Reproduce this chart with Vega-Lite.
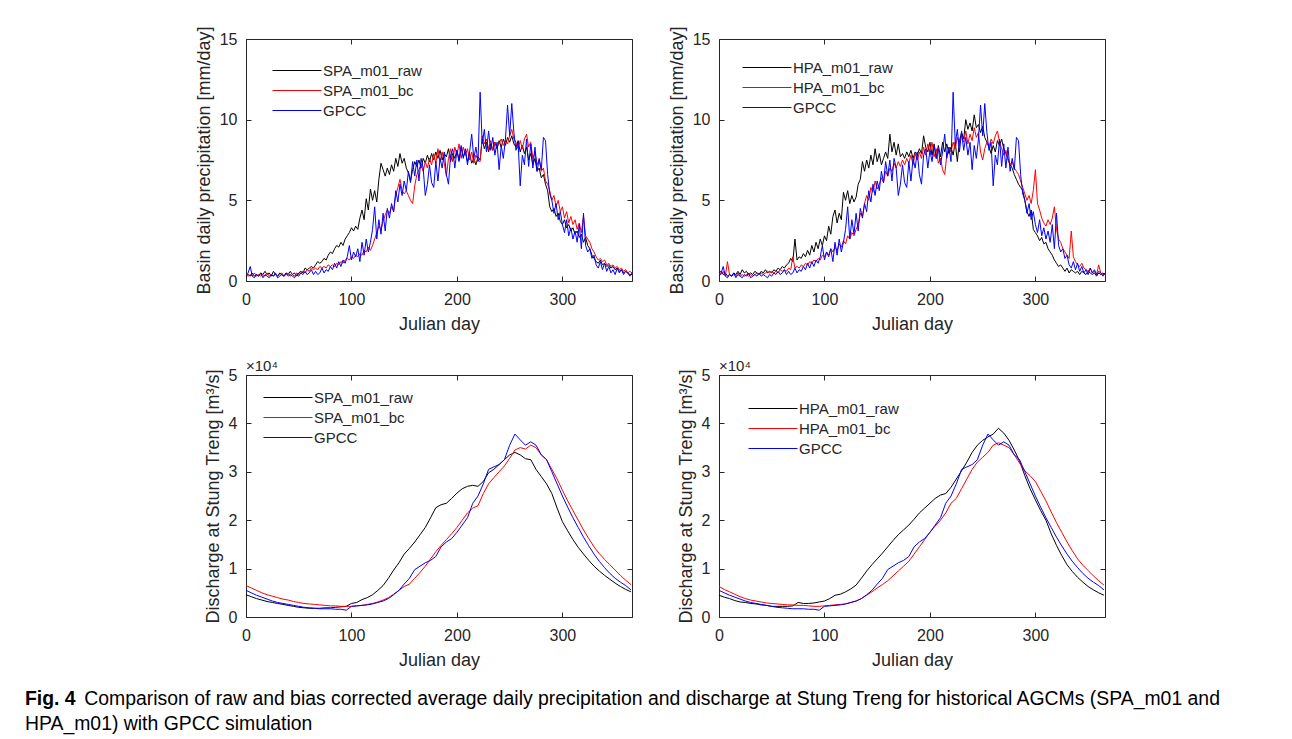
{
  "$schema": "https://vega.github.io/schema/vega-lite/v6.json",
  "padding": {"left": 25, "top": 25, "right": 5, "bottom": 5},
  "background": "#ffffff",
  "columns": 2,
  "spacing": {"row": 94, "column": 87},
  "bounds": "flush",
  "resolve": {"legend": {"color": "independent"}},
  "title": {
    "text": "Fig. 4",
    "subtitle": ["\u200b\u00a0\u00a0\u00a0\u00a0\u00a0\u00a0\u00a0\u00a0\u00a0\u00a0\u00a0Comparison of raw and bias corrected average daily precipitation and discharge at Stung Treng for historical AGCMs (SPA_m01 and", "HPA_m01) with GPCC simulation"],
    "orient": "bottom", "anchor": "start", "frame": "group",
    "dx": -221, "offset": 20,
    "font": "Liberation Sans", "fontSize": 19.4, "fontWeight": "bold", "color": "#000000",
    "subtitleFont": "Liberation Sans", "subtitleFontSize": 19.4, "subtitleColor": "#000000",
    "subtitlePadding": -19.4, "subtitleLineHeight": 25
  },
  "datasets": {
    "pS": [
{"day":0,"raw":0.3,"bc":0.4,"GPCC":0.3},{"day":2,"raw":0.4,"bc":0.3,"GPCC":0.5},{"day":4,"raw":0.3,"bc":0.4,"GPCC":0.9},{"day":6,"raw":0.5,"bc":0.3,"GPCC":0.3},{"day":8,"raw":0.3,"bc":0.5,"GPCC":0.2},{"day":10,"raw":0.4,"bc":0.3,"GPCC":0.4},{"day":12,"raw":0.3,"bc":0.4,"GPCC":0.3},{"day":14,"raw":0.5,"bc":0.3,"GPCC":0.5},{"day":16,"raw":0.4,"bc":0.4,"GPCC":0.2},{"day":18,"raw":0.6,"bc":0.3,"GPCC":0.4},
{"day":20,"raw":0.4,"bc":0.5,"GPCC":0.3},{"day":22,"raw":0.5,"bc":0.3,"GPCC":0.2},{"day":24,"raw":0.3,"bc":0.4,"GPCC":0.4},{"day":26,"raw":0.6,"bc":0.3,"GPCC":0.3},{"day":28,"raw":0.4,"bc":0.4,"GPCC":0.5},{"day":30,"raw":0.3,"bc":0.3,"GPCC":0.2},{"day":32,"raw":0.5,"bc":0.4,"GPCC":0.3},{"day":34,"raw":0.4,"bc":0.5,"GPCC":0.4},{"day":36,"raw":0.3,"bc":0.3,"GPCC":0.3},{"day":38,"raw":0.5,"bc":0.4,"GPCC":0.5},
{"day":40,"raw":0.4,"bc":0.5,"GPCC":0.3},{"day":42,"raw":0.6,"bc":0.3,"GPCC":0.4},{"day":44,"raw":0.4,"bc":0.4,"GPCC":0.3},{"day":46,"raw":0.5,"bc":0.3,"GPCC":0.2},{"day":48,"raw":0.3,"bc":0.5,"GPCC":0.4},{"day":50,"raw":0.5,"bc":0.4,"GPCC":0.3},{"day":52,"raw":0.6,"bc":0.5,"GPCC":0.5},{"day":54,"raw":0.5,"bc":0.6,"GPCC":0.4},{"day":56,"raw":0.8,"bc":0.5,"GPCC":0.6},{"day":58,"raw":0.7,"bc":0.7,"GPCC":0.4},
{"day":60,"raw":0.8,"bc":0.6,"GPCC":0.5},{"day":62,"raw":0.9,"bc":0.8,"GPCC":0.7},{"day":64,"raw":0.8,"bc":0.7,"GPCC":0.4},{"day":66,"raw":1.0,"bc":0.8,"GPCC":0.6},{"day":68,"raw":1.2,"bc":0.7,"GPCC":0.4},{"day":70,"raw":1.1,"bc":0.9,"GPCC":0.5},{"day":72,"raw":1.2,"bc":0.8,"GPCC":0.8},{"day":74,"raw":1.4,"bc":0.9,"GPCC":0.5},{"day":76,"raw":1.3,"bc":0.8,"GPCC":0.7},{"day":78,"raw":1.6,"bc":1.0,"GPCC":0.6},
{"day":80,"raw":1.8,"bc":0.9,"GPCC":0.9},{"day":82,"raw":1.7,"bc":1.0,"GPCC":0.7},{"day":84,"raw":2.0,"bc":0.9,"GPCC":1.1},{"day":86,"raw":2.2,"bc":1.1,"GPCC":0.8},{"day":88,"raw":2.1,"bc":1.0,"GPCC":1.2},{"day":90,"raw":2.4,"bc":1.2,"GPCC":0.9},{"day":92,"raw":2.2,"bc":1.1,"GPCC":1.3},{"day":94,"raw":2.6,"bc":1.3,"GPCC":1.1},{"day":96,"raw":2.8,"bc":1.4,"GPCC":1.5},{"day":98,"raw":3.0,"bc":1.3,"GPCC":2.2},
{"day":100,"raw":3.3,"bc":1.5,"GPCC":1.3},{"day":102,"raw":3.1,"bc":1.4,"GPCC":1.8},{"day":104,"raw":3.4,"bc":1.6,"GPCC":1.5},{"day":106,"raw":3.2,"bc":1.5,"GPCC":2.0},{"day":108,"raw":3.9,"bc":1.7,"GPCC":1.2},{"day":110,"raw":4.4,"bc":1.6,"GPCC":2.4},{"day":112,"raw":3.8,"bc":1.9,"GPCC":1.6},{"day":114,"raw":5.1,"bc":1.8,"GPCC":2.6},{"day":116,"raw":4.4,"bc":2.1,"GPCC":1.8},{"day":118,"raw":5.7,"bc":1.9,"GPCC":2.4},
{"day":120,"raw":5.0,"bc":2.2,"GPCC":3.2},{"day":122,"raw":5.6,"bc":2.6,"GPCC":4.6},{"day":124,"raw":4.9,"bc":3.0,"GPCC":2.6},{"day":126,"raw":6.3,"bc":3.4,"GPCC":3.8},{"day":128,"raw":7.3,"bc":3.2,"GPCC":2.9},{"day":130,"raw":6.9,"bc":3.7,"GPCC":4.2},{"day":132,"raw":6.5,"bc":4.1,"GPCC":3.1},{"day":134,"raw":7.0,"bc":4.4,"GPCC":4.5},{"day":136,"raw":6.6,"bc":4.2,"GPCC":3.9},{"day":138,"raw":7.2,"bc":4.6,"GPCC":4.8},
{"day":140,"raw":6.8,"bc":4.3,"GPCC":4.3},{"day":142,"raw":7.6,"bc":5.3,"GPCC":5.6},{"day":144,"raw":7.1,"bc":5.8,"GPCC":4.9},{"day":146,"raw":7.9,"bc":6.3,"GPCC":6.0},{"day":148,"raw":7.3,"bc":5.6,"GPCC":5.3},{"day":150,"raw":7.6,"bc":5.4,"GPCC":6.2},{"day":152,"raw":7.0,"bc":5.6,"GPCC":5.6},{"day":154,"raw":6.7,"bc":5.3,"GPCC":6.8},{"day":156,"raw":6.2,"bc":5.0,"GPCC":6.1},{"day":158,"raw":6.9,"bc":4.8,"GPCC":7.4},
{"day":160,"raw":7.4,"bc":5.9,"GPCC":6.5},{"day":162,"raw":7.1,"bc":6.6,"GPCC":7.5},{"day":164,"raw":7.5,"bc":6.9,"GPCC":6.2},{"day":166,"raw":7.0,"bc":7.2,"GPCC":7.6},{"day":168,"raw":7.6,"bc":6.8,"GPCC":7.0},{"day":170,"raw":7.3,"bc":7.4,"GPCC":5.3},{"day":172,"raw":7.8,"bc":7.0,"GPCC":6.0},{"day":174,"raw":7.4,"bc":7.6,"GPCC":7.2},{"day":176,"raw":7.9,"bc":7.2,"GPCC":6.1},{"day":178,"raw":7.5,"bc":7.9,"GPCC":5.8},
{"day":180,"raw":8.0,"bc":7.3,"GPCC":7.4},{"day":182,"raw":7.6,"bc":8.2,"GPCC":6.2},{"day":184,"raw":8.1,"bc":7.4,"GPCC":7.6},{"day":186,"raw":7.5,"bc":8.0,"GPCC":7.0},{"day":188,"raw":7.9,"bc":7.3,"GPCC":8.0},{"day":190,"raw":7.7,"bc":6.5,"GPCC":6.6},{"day":192,"raw":8.2,"bc":7.6,"GPCC":6.0},{"day":194,"raw":7.4,"bc":8.2,"GPCC":7.8},{"day":196,"raw":7.9,"bc":7.4,"GPCC":8.2},{"day":198,"raw":7.6,"bc":8.3,"GPCC":7.0},
{"day":200,"raw":8.1,"bc":7.8,"GPCC":8.1},{"day":202,"raw":7.5,"bc":8.5,"GPCC":7.4},{"day":204,"raw":8.3,"bc":7.6,"GPCC":8.4},{"day":206,"raw":7.7,"bc":8.3,"GPCC":7.6},{"day":208,"raw":8.0,"bc":7.8,"GPCC":8.2},{"day":210,"raw":7.4,"bc":8.2,"GPCC":7.2},{"day":212,"raw":7.9,"bc":7.5,"GPCC":8.0},{"day":214,"raw":7.3,"bc":8.0,"GPCC":9.1},{"day":216,"raw":7.6,"bc":7.3,"GPCC":7.6},{"day":218,"raw":7.2,"bc":7.8,"GPCC":8.3},
{"day":220,"raw":7.7,"bc":7.5,"GPCC":7.4},{"day":222,"raw":7.5,"bc":7.4,"GPCC":11.7},{"day":224,"raw":8.8,"bc":9.0,"GPCC":8.5},{"day":226,"raw":8.2,"bc":8.5,"GPCC":9.4},{"day":228,"raw":8.6,"bc":8.8,"GPCC":8.0},{"day":230,"raw":8.0,"bc":8.2,"GPCC":9.3},{"day":232,"raw":8.5,"bc":8.7,"GPCC":8.1},{"day":234,"raw":8.1,"bc":8.1,"GPCC":8.9},{"day":236,"raw":8.6,"bc":8.6,"GPCC":7.8},{"day":238,"raw":8.2,"bc":8.3,"GPCC":8.6},
{"day":240,"raw":8.7,"bc":8.5,"GPCC":6.9},{"day":242,"raw":8.3,"bc":8.8,"GPCC":8.4},{"day":244,"raw":8.8,"bc":8.4,"GPCC":7.6},{"day":246,"raw":8.4,"bc":8.7,"GPCC":8.8},{"day":248,"raw":8.9,"bc":8.5,"GPCC":10.9},{"day":250,"raw":8.6,"bc":9.0,"GPCC":9.0},{"day":252,"raw":9.0,"bc":9.4,"GPCC":11.0},{"day":254,"raw":8.5,"bc":8.8,"GPCC":9.2},{"day":256,"raw":8.3,"bc":8.6,"GPCC":8.1},{"day":258,"raw":8.7,"bc":8.2,"GPCC":8.6},
{"day":260,"raw":8.0,"bc":8.7,"GPCC":5.9},{"day":262,"raw":8.4,"bc":8.2,"GPCC":7.8},{"day":264,"raw":7.9,"bc":8.8,"GPCC":7.2},{"day":266,"raw":8.3,"bc":9.1,"GPCC":8.8},{"day":268,"raw":7.5,"bc":8.3,"GPCC":7.1},{"day":270,"raw":7.9,"bc":8.6,"GPCC":8.5},{"day":272,"raw":7.2,"bc":7.6,"GPCC":7.0},{"day":274,"raw":7.6,"bc":8.0,"GPCC":8.3},{"day":276,"raw":6.8,"bc":7.2,"GPCC":6.8},{"day":278,"raw":7.0,"bc":7.5,"GPCC":7.6},
{"day":280,"raw":6.4,"bc":6.8,"GPCC":6.9},{"day":282,"raw":6.6,"bc":7.0,"GPCC":8.9},{"day":284,"raw":6.0,"bc":6.2,"GPCC":8.7},{"day":286,"raw":5.6,"bc":6.0,"GPCC":6.6},{"day":288,"raw":4.6,"bc":5.6,"GPCC":5.4},{"day":290,"raw":4.3,"bc":5.0,"GPCC":5.0},{"day":292,"raw":4.5,"bc":5.3,"GPCC":4.2},{"day":294,"raw":4.0,"bc":4.6,"GPCC":4.8},{"day":296,"raw":4.2,"bc":5.0,"GPCC":3.8},{"day":298,"raw":3.7,"bc":4.3,"GPCC":4.3},
{"day":300,"raw":3.5,"bc":4.6,"GPCC":3.5},{"day":302,"raw":3.8,"bc":3.9,"GPCC":3.0},{"day":304,"raw":3.3,"bc":4.3,"GPCC":3.8},{"day":306,"raw":3.5,"bc":3.6,"GPCC":2.8},{"day":308,"raw":3.1,"bc":4.0,"GPCC":3.3},{"day":310,"raw":3.3,"bc":3.5,"GPCC":2.6},{"day":312,"raw":2.9,"bc":3.8,"GPCC":3.1},{"day":314,"raw":3.1,"bc":3.2,"GPCC":2.4},{"day":316,"raw":2.7,"bc":3.6,"GPCC":3.5},{"day":318,"raw":2.9,"bc":3.0,"GPCC":2.0},
{"day":320,"raw":2.4,"bc":4.0,"GPCC":4.2},{"day":322,"raw":2.7,"bc":2.8,"GPCC":2.2},{"day":324,"raw":2.2,"bc":2.6,"GPCC":1.8},{"day":326,"raw":2.0,"bc":2.4,"GPCC":2.0},{"day":328,"raw":1.6,"bc":2.0,"GPCC":1.4},{"day":330,"raw":1.4,"bc":1.8,"GPCC":1.6},{"day":332,"raw":1.2,"bc":1.5,"GPCC":1.0},{"day":334,"raw":1.1,"bc":1.3,"GPCC":0.8},{"day":336,"raw":1.3,"bc":1.4,"GPCC":1.2},{"day":338,"raw":1.0,"bc":1.2,"GPCC":0.7},
{"day":340,"raw":1.1,"bc":1.3,"GPCC":1.1},{"day":342,"raw":0.9,"bc":1.0,"GPCC":0.6},{"day":344,"raw":1.0,"bc":1.1,"GPCC":0.9},{"day":346,"raw":0.8,"bc":0.9,"GPCC":0.5},{"day":348,"raw":0.9,"bc":1.0,"GPCC":0.7},{"day":350,"raw":0.7,"bc":0.8,"GPCC":0.4},{"day":352,"raw":0.8,"bc":0.9,"GPCC":0.8},{"day":354,"raw":0.6,"bc":0.7,"GPCC":0.5},{"day":356,"raw":0.7,"bc":0.8,"GPCC":0.7},{"day":358,"raw":0.5,"bc":0.6,"GPCC":0.4},
{"day":360,"raw":0.6,"bc":0.7,"GPCC":0.6},{"day":362,"raw":0.5,"bc":0.5,"GPCC":0.5},{"day":364,"raw":0.4,"bc":0.6,"GPCC":0.3},{"day":366,"raw":0.4,"bc":0.5,"GPCC":0.5}
    ],
    "pH": [
{"day":0,"raw":0.5,"bc":0.5,"GPCC":0.3},{"day":2,"raw":0.6,"bc":0.4,"GPCC":0.5},{"day":4,"raw":0.4,"bc":0.6,"GPCC":0.9},{"day":6,"raw":0.5,"bc":0.3,"GPCC":0.3},{"day":8,"raw":0.3,"bc":1.2,"GPCC":0.2},{"day":10,"raw":0.4,"bc":0.4,"GPCC":0.4},{"day":12,"raw":0.3,"bc":0.3,"GPCC":0.3},{"day":14,"raw":0.5,"bc":0.4,"GPCC":0.5},{"day":16,"raw":0.4,"bc":0.3,"GPCC":0.2},{"day":18,"raw":0.6,"bc":0.5,"GPCC":0.4},
{"day":20,"raw":0.4,"bc":0.3,"GPCC":0.3},{"day":22,"raw":0.7,"bc":0.4,"GPCC":0.2},{"day":24,"raw":0.5,"bc":0.3,"GPCC":0.4},{"day":26,"raw":0.6,"bc":0.4,"GPCC":0.3},{"day":28,"raw":0.4,"bc":0.3,"GPCC":0.5},{"day":30,"raw":0.5,"bc":0.4,"GPCC":0.2},{"day":32,"raw":0.4,"bc":0.3,"GPCC":0.3},{"day":34,"raw":0.6,"bc":0.4,"GPCC":0.4},{"day":36,"raw":0.5,"bc":0.5,"GPCC":0.3},{"day":38,"raw":0.4,"bc":0.4,"GPCC":0.5},
{"day":40,"raw":0.6,"bc":0.5,"GPCC":0.3},{"day":42,"raw":0.5,"bc":0.4,"GPCC":0.4},{"day":44,"raw":0.7,"bc":0.5,"GPCC":0.3},{"day":46,"raw":0.5,"bc":0.6,"GPCC":0.2},{"day":48,"raw":0.6,"bc":0.5,"GPCC":0.4},{"day":50,"raw":0.5,"bc":0.6,"GPCC":0.3},{"day":52,"raw":0.7,"bc":0.5,"GPCC":0.5},{"day":54,"raw":0.6,"bc":0.6,"GPCC":0.4},{"day":56,"raw":0.8,"bc":0.5,"GPCC":0.6},{"day":58,"raw":0.7,"bc":0.7,"GPCC":0.4},
{"day":60,"raw":0.9,"bc":0.6,"GPCC":0.5},{"day":62,"raw":0.8,"bc":0.7,"GPCC":0.7},{"day":64,"raw":1.0,"bc":0.6,"GPCC":0.4},{"day":66,"raw":1.1,"bc":0.8,"GPCC":0.6},{"day":68,"raw":1.4,"bc":0.7,"GPCC":0.4},{"day":70,"raw":1.2,"bc":1.5,"GPCC":0.5},{"day":72,"raw":2.6,"bc":0.8,"GPCC":0.8},{"day":74,"raw":1.3,"bc":0.9,"GPCC":0.5},{"day":76,"raw":1.5,"bc":0.8,"GPCC":0.7},{"day":78,"raw":1.4,"bc":1.0,"GPCC":0.6},
{"day":80,"raw":1.7,"bc":0.9,"GPCC":0.9},{"day":82,"raw":1.5,"bc":1.1,"GPCC":0.7},{"day":84,"raw":1.9,"bc":1.0,"GPCC":1.1},{"day":86,"raw":1.6,"bc":1.2,"GPCC":0.8},{"day":88,"raw":2.2,"bc":1.1,"GPCC":1.2},{"day":90,"raw":1.8,"bc":1.3,"GPCC":0.9},{"day":92,"raw":2.4,"bc":1.2,"GPCC":1.3},{"day":94,"raw":2.0,"bc":1.4,"GPCC":1.1},{"day":96,"raw":2.6,"bc":1.3,"GPCC":1.5},{"day":98,"raw":2.2,"bc":1.6,"GPCC":2.2},
{"day":100,"raw":2.8,"bc":1.5,"GPCC":1.3},{"day":102,"raw":2.5,"bc":1.8,"GPCC":1.8},{"day":104,"raw":3.4,"bc":1.6,"GPCC":1.5},{"day":106,"raw":2.9,"bc":2.0,"GPCC":2.0},{"day":108,"raw":4.0,"bc":1.8,"GPCC":1.2},{"day":110,"raw":4.4,"bc":2.1,"GPCC":2.4},{"day":112,"raw":3.6,"bc":1.9,"GPCC":1.6},{"day":114,"raw":4.2,"bc":2.3,"GPCC":2.6},{"day":116,"raw":3.8,"bc":2.1,"GPCC":1.8},{"day":118,"raw":5.5,"bc":2.5,"GPCC":2.4},
{"day":120,"raw":5.0,"bc":2.3,"GPCC":3.2},{"day":122,"raw":5.6,"bc":2.8,"GPCC":4.6},{"day":124,"raw":4.8,"bc":2.6,"GPCC":2.6},{"day":126,"raw":5.3,"bc":3.0,"GPCC":3.8},{"day":128,"raw":4.9,"bc":2.8,"GPCC":2.9},{"day":130,"raw":5.2,"bc":3.2,"GPCC":4.2},{"day":132,"raw":6.0,"bc":3.5,"GPCC":3.1},{"day":134,"raw":6.3,"bc":4.2,"GPCC":4.5},{"day":136,"raw":7.4,"bc":4.0,"GPCC":3.9},{"day":138,"raw":6.8,"bc":4.8,"GPCC":4.8},
{"day":140,"raw":7.5,"bc":5.3,"GPCC":4.3},{"day":142,"raw":7.0,"bc":5.0,"GPCC":5.6},{"day":144,"raw":7.8,"bc":5.8,"GPCC":4.9},{"day":146,"raw":7.2,"bc":5.5,"GPCC":6.0},{"day":148,"raw":8.2,"bc":6.2,"GPCC":5.3},{"day":150,"raw":7.4,"bc":5.7,"GPCC":6.2},{"day":152,"raw":7.9,"bc":6.0,"GPCC":5.6},{"day":154,"raw":7.2,"bc":6.4,"GPCC":6.8},{"day":156,"raw":7.6,"bc":6.1,"GPCC":6.1},{"day":158,"raw":8.0,"bc":6.8,"GPCC":7.4},
{"day":160,"raw":7.6,"bc":6.5,"GPCC":6.5},{"day":162,"raw":9.1,"bc":7.0,"GPCC":7.5},{"day":164,"raw":8.0,"bc":6.8,"GPCC":6.2},{"day":166,"raw":8.6,"bc":7.3,"GPCC":7.6},{"day":168,"raw":7.8,"bc":7.0,"GPCC":7.0},{"day":170,"raw":8.5,"bc":7.4,"GPCC":5.3},{"day":172,"raw":7.7,"bc":7.1,"GPCC":6.0},{"day":174,"raw":7.9,"bc":7.5,"GPCC":7.2},{"day":176,"raw":7.6,"bc":7.2,"GPCC":6.1},{"day":178,"raw":8.0,"bc":7.6,"GPCC":5.8},
{"day":180,"raw":7.7,"bc":7.3,"GPCC":7.4},{"day":182,"raw":8.1,"bc":7.8,"GPCC":6.2},{"day":184,"raw":7.6,"bc":7.2,"GPCC":7.6},{"day":186,"raw":8.0,"bc":7.9,"GPCC":7.0},{"day":188,"raw":7.8,"bc":7.5,"GPCC":8.0},{"day":190,"raw":8.2,"bc":8.0,"GPCC":6.6},{"day":192,"raw":7.9,"bc":7.6,"GPCC":6.0},{"day":194,"raw":9.0,"bc":8.3,"GPCC":7.8},{"day":196,"raw":8.3,"bc":7.8,"GPCC":8.2},{"day":198,"raw":8.0,"bc":8.5,"GPCC":7.0},
{"day":200,"raw":8.6,"bc":8.0,"GPCC":8.1},{"day":202,"raw":7.8,"bc":8.6,"GPCC":7.4},{"day":204,"raw":8.5,"bc":7.7,"GPCC":8.4},{"day":206,"raw":7.6,"bc":8.2,"GPCC":7.6},{"day":208,"raw":8.4,"bc":7.3,"GPCC":8.2},{"day":210,"raw":7.7,"bc":7.6,"GPCC":7.2},{"day":212,"raw":8.6,"bc":6.9,"GPCC":8.0},{"day":214,"raw":8.0,"bc":6.6,"GPCC":9.1},{"day":216,"raw":8.5,"bc":7.8,"GPCC":7.6},{"day":218,"raw":7.9,"bc":8.3,"GPCC":8.3},
{"day":220,"raw":8.3,"bc":8.0,"GPCC":7.4},{"day":222,"raw":7.8,"bc":8.6,"GPCC":11.7},{"day":224,"raw":8.6,"bc":8.2,"GPCC":8.5},{"day":226,"raw":7.4,"bc":8.9,"GPCC":9.4},{"day":228,"raw":8.7,"bc":8.4,"GPCC":8.0},{"day":230,"raw":9.2,"bc":9.0,"GPCC":9.3},{"day":232,"raw":8.8,"bc":8.6,"GPCC":8.1},{"day":234,"raw":10.0,"bc":9.3,"GPCC":8.9},{"day":236,"raw":9.4,"bc":8.5,"GPCC":7.8},{"day":238,"raw":9.8,"bc":9.1,"GPCC":8.6},
{"day":240,"raw":9.3,"bc":8.7,"GPCC":6.9},{"day":242,"raw":10.3,"bc":9.5,"GPCC":8.4},{"day":244,"raw":9.5,"bc":8.9,"GPCC":7.6},{"day":246,"raw":9.7,"bc":9.2,"GPCC":8.8},{"day":248,"raw":9.2,"bc":8.0,"GPCC":10.9},{"day":250,"raw":9.6,"bc":7.5,"GPCC":9.0},{"day":252,"raw":8.9,"bc":8.2,"GPCC":11.0},{"day":254,"raw":8.6,"bc":8.6,"GPCC":9.2},{"day":256,"raw":8.3,"bc":8.3,"GPCC":8.1},{"day":258,"raw":7.9,"bc":8.8,"GPCC":8.6},
{"day":260,"raw":8.4,"bc":8.5,"GPCC":5.9},{"day":262,"raw":8.0,"bc":9.0,"GPCC":7.8},{"day":264,"raw":8.7,"bc":9.3,"GPCC":7.2},{"day":266,"raw":8.4,"bc":8.6,"GPCC":8.8},{"day":268,"raw":8.8,"bc":8.2,"GPCC":7.1},{"day":270,"raw":8.2,"bc":7.8,"GPCC":8.5},{"day":272,"raw":7.9,"bc":8.1,"GPCC":7.0},{"day":274,"raw":7.6,"bc":7.5,"GPCC":8.3},{"day":276,"raw":7.2,"bc":7.2,"GPCC":6.8},{"day":278,"raw":7.0,"bc":7.4,"GPCC":7.6},
{"day":280,"raw":6.6,"bc":7.0,"GPCC":6.9},{"day":282,"raw":6.3,"bc":6.8,"GPCC":8.9},{"day":284,"raw":6.0,"bc":6.6,"GPCC":8.7},{"day":286,"raw":5.8,"bc":6.2,"GPCC":6.6},{"day":288,"raw":5.6,"bc":5.8,"GPCC":5.4},{"day":290,"raw":5.0,"bc":5.4,"GPCC":5.0},{"day":292,"raw":4.3,"bc":5.0,"GPCC":4.2},{"day":294,"raw":4.0,"bc":5.3,"GPCC":4.8},{"day":296,"raw":4.4,"bc":4.8,"GPCC":3.8},{"day":298,"raw":3.2,"bc":5.6,"GPCC":4.3},
{"day":300,"raw":3.0,"bc":6.9,"GPCC":3.5},{"day":302,"raw":2.8,"bc":4.8,"GPCC":3.0},{"day":304,"raw":2.5,"bc":4.4,"GPCC":3.8},{"day":306,"raw":2.7,"bc":3.9,"GPCC":2.8},{"day":308,"raw":2.3,"bc":3.6,"GPCC":3.3},{"day":310,"raw":2.4,"bc":3.4,"GPCC":2.6},{"day":312,"raw":2.0,"bc":3.8,"GPCC":3.1},{"day":314,"raw":1.8,"bc":3.5,"GPCC":2.4},{"day":316,"raw":1.6,"bc":3.9,"GPCC":3.5},{"day":318,"raw":1.3,"bc":4.6,"GPCC":2.0},
{"day":320,"raw":1.1,"bc":3.2,"GPCC":4.2},{"day":322,"raw":0.9,"bc":2.6,"GPCC":2.2},{"day":324,"raw":1.0,"bc":2.4,"GPCC":1.8},{"day":326,"raw":0.8,"bc":2.0,"GPCC":2.0},{"day":328,"raw":0.6,"bc":1.8,"GPCC":1.4},{"day":330,"raw":0.8,"bc":1.6,"GPCC":1.6},{"day":332,"raw":0.5,"bc":1.4,"GPCC":1.0},{"day":334,"raw":0.7,"bc":3.1,"GPCC":0.8},{"day":336,"raw":0.6,"bc":1.5,"GPCC":1.2},{"day":338,"raw":0.5,"bc":1.2,"GPCC":0.7},
{"day":340,"raw":0.6,"bc":1.0,"GPCC":1.1},{"day":342,"raw":0.4,"bc":0.9,"GPCC":0.6},{"day":344,"raw":0.6,"bc":1.1,"GPCC":0.9},{"day":346,"raw":0.5,"bc":0.8,"GPCC":0.5},{"day":348,"raw":0.4,"bc":0.7,"GPCC":0.7},{"day":350,"raw":0.6,"bc":0.6,"GPCC":0.4},{"day":352,"raw":0.5,"bc":0.8,"GPCC":0.8},{"day":354,"raw":0.4,"bc":0.5,"GPCC":0.5},{"day":356,"raw":0.5,"bc":0.6,"GPCC":0.7},{"day":358,"raw":0.3,"bc":0.4,"GPCC":0.4},
{"day":360,"raw":0.5,"bc":1.0,"GPCC":0.6},{"day":362,"raw":0.4,"bc":0.5,"GPCC":0.5},{"day":364,"raw":0.5,"bc":0.4,"GPCC":0.3},{"day":366,"raw":0.4,"bc":0.4,"GPCC":0.5}
    ],
    "qS": [
{"day":0,"raw":4600,"bc":6500,"GPCC":5500},{"day":5,"raw":4200,"bc":6000,"GPCC":5000},{"day":10,"raw":3800,"bc":5500,"GPCC":4500},{"day":15,"raw":3500,"bc":5000,"GPCC":4100},{"day":20,"raw":3200,"bc":4600,"GPCC":3700},{"day":25,"raw":3000,"bc":4300,"GPCC":3300},{"day":30,"raw":2800,"bc":4000,"GPCC":3000},{"day":35,"raw":2600,"bc":3700,"GPCC":2800},{"day":40,"raw":2400,"bc":3500,"GPCC":2600},{"day":45,"raw":2200,"bc":3200,"GPCC":2400},
{"day":50,"raw":2000,"bc":3000,"GPCC":2200},{"day":55,"raw":1900,"bc":2800,"GPCC":2000},{"day":60,"raw":1800,"bc":2700,"GPCC":1900},{"day":65,"raw":1800,"bc":2600,"GPCC":1800},{"day":70,"raw":1800,"bc":2500,"GPCC":1700},{"day":75,"raw":1900,"bc":2400,"GPCC":1700},{"day":80,"raw":1900,"bc":2300,"GPCC":1700},{"day":85,"raw":2000,"bc":2300,"GPCC":1600},{"day":90,"raw":2100,"bc":2200,"GPCC":1600},{"day":95,"raw":2200,"bc":2200,"GPCC":1400},
{"day":100,"raw":2800,"bc":2200,"GPCC":2200},{"day":105,"raw":3000,"bc":2300,"GPCC":2300},{"day":110,"raw":3600,"bc":2400,"GPCC":2400},{"day":115,"raw":4000,"bc":2600,"GPCC":2500},{"day":120,"raw":4600,"bc":2800,"GPCC":2700},{"day":125,"raw":5500,"bc":3100,"GPCC":3000},{"day":130,"raw":6500,"bc":3500,"GPCC":3300},{"day":135,"raw":8000,"bc":4000,"GPCC":3800},{"day":140,"raw":9700,"bc":4700,"GPCC":4600},{"day":145,"raw":11200,"bc":5500,"GPCC":5500},
{"day":150,"raw":13000,"bc":6300,"GPCC":6800},{"day":155,"raw":14200,"bc":6800,"GPCC":8000},{"day":160,"raw":15500,"bc":8000,"GPCC":9800},{"day":165,"raw":17000,"bc":9200,"GPCC":10500},{"day":170,"raw":18500,"bc":10500,"GPCC":11200},{"day":175,"raw":20500,"bc":12000,"GPCC":11700},{"day":180,"raw":22600,"bc":13500,"GPCC":12500},{"day":185,"raw":23200,"bc":14800,"GPCC":14500},{"day":190,"raw":23500,"bc":16000,"GPCC":15500},{"day":195,"raw":24500,"bc":17200,"GPCC":16200},
{"day":200,"raw":25600,"bc":18500,"GPCC":17500},{"day":205,"raw":26500,"bc":20000,"GPCC":19000},{"day":210,"raw":27000,"bc":21500,"GPCC":20500},{"day":215,"raw":27200,"bc":22500,"GPCC":23500},{"day":220,"raw":27000,"bc":23000,"GPCC":25000},{"day":225,"raw":28000,"bc":25500,"GPCC":27500},{"day":230,"raw":29800,"bc":27500,"GPCC":30500},{"day":235,"raw":30500,"bc":28800,"GPCC":31000},{"day":240,"raw":31500,"bc":30000,"GPCC":31500},{"day":245,"raw":32500,"bc":31200,"GPCC":32500},
{"day":250,"raw":33500,"bc":32800,"GPCC":35500},{"day":255,"raw":34000,"bc":34500,"GPCC":37800},{"day":260,"raw":33500,"bc":35000,"GPCC":36600},{"day":265,"raw":32700,"bc":34700,"GPCC":35500},{"day":270,"raw":32500,"bc":35500,"GPCC":36200},{"day":275,"raw":30500,"bc":35000,"GPCC":35500},{"day":280,"raw":29000,"bc":33500,"GPCC":33500},{"day":285,"raw":27500,"bc":32500,"GPCC":32500},{"day":290,"raw":25500,"bc":30500,"GPCC":30000},{"day":295,"raw":22500,"bc":28500,"GPCC":27500},
{"day":300,"raw":19700,"bc":26200,"GPCC":25000},{"day":305,"raw":17800,"bc":24000,"GPCC":22700},{"day":310,"raw":16000,"bc":22000,"GPCC":20500},{"day":315,"raw":14400,"bc":20000,"GPCC":18500},{"day":320,"raw":13000,"bc":18000,"GPCC":16500},{"day":325,"raw":11700,"bc":16200,"GPCC":14700},{"day":330,"raw":10500,"bc":14500,"GPCC":13000},{"day":335,"raw":9500,"bc":13100,"GPCC":11500},{"day":340,"raw":8600,"bc":11900,"GPCC":10200},{"day":345,"raw":7800,"bc":10800,"GPCC":9000},
{"day":350,"raw":7000,"bc":9700,"GPCC":8000},{"day":355,"raw":6300,"bc":8600,"GPCC":7200},{"day":360,"raw":5700,"bc":7600,"GPCC":6500},{"day":365,"raw":5200,"bc":6700,"GPCC":5600}
    ],
    "qH": [
{"day":0,"raw":4500,"bc":6300,"GPCC":5500},{"day":5,"raw":4100,"bc":5700,"GPCC":5000},{"day":10,"raw":3800,"bc":5200,"GPCC":4500},{"day":15,"raw":3400,"bc":4700,"GPCC":4100},{"day":20,"raw":3100,"bc":4200,"GPCC":3700},{"day":25,"raw":3000,"bc":3800,"GPCC":3300},{"day":30,"raw":2800,"bc":3500,"GPCC":3000},{"day":35,"raw":2700,"bc":3300,"GPCC":2800},{"day":40,"raw":2500,"bc":3100,"GPCC":2600},{"day":45,"raw":2400,"bc":2900,"GPCC":2400},
{"day":50,"raw":2200,"bc":2800,"GPCC":2200},{"day":55,"raw":2200,"bc":2700,"GPCC":2000},{"day":60,"raw":2200,"bc":2600,"GPCC":1900},{"day":65,"raw":2200,"bc":2500,"GPCC":1800},{"day":70,"raw":2300,"bc":2500,"GPCC":1700},{"day":75,"raw":3000,"bc":2400,"GPCC":1700},{"day":80,"raw":2800,"bc":2400,"GPCC":1700},{"day":85,"raw":2800,"bc":2300,"GPCC":1600},{"day":90,"raw":2900,"bc":2200,"GPCC":1600},{"day":95,"raw":3100,"bc":2200,"GPCC":1400},
{"day":100,"raw":3300,"bc":2300,"GPCC":2200},{"day":105,"raw":3800,"bc":2400,"GPCC":2300},{"day":110,"raw":4500,"bc":2500,"GPCC":2400},{"day":115,"raw":4700,"bc":2600,"GPCC":2500},{"day":120,"raw":5200,"bc":2700,"GPCC":2700},{"day":125,"raw":5800,"bc":3000,"GPCC":3000},{"day":130,"raw":6600,"bc":3300,"GPCC":3300},{"day":135,"raw":8000,"bc":3800,"GPCC":3800},{"day":140,"raw":9500,"bc":4500,"GPCC":4600},{"day":145,"raw":10800,"bc":5200,"GPCC":5500},
{"day":150,"raw":12000,"bc":6000,"GPCC":6800},{"day":155,"raw":13200,"bc":6700,"GPCC":8000},{"day":160,"raw":14500,"bc":7500,"GPCC":9800},{"day":165,"raw":15800,"bc":8500,"GPCC":10500},{"day":170,"raw":17000,"bc":9500,"GPCC":11200},{"day":175,"raw":18000,"bc":10500,"GPCC":11700},{"day":180,"raw":19000,"bc":11500,"GPCC":12500},{"day":185,"raw":20200,"bc":13000,"GPCC":14500},{"day":190,"raw":21500,"bc":14500,"GPCC":15500},{"day":195,"raw":22500,"bc":16000,"GPCC":16200},
{"day":200,"raw":23500,"bc":17500,"GPCC":17500},{"day":205,"raw":24500,"bc":18800,"GPCC":19000},{"day":210,"raw":25200,"bc":20000,"GPCC":20500},{"day":215,"raw":25500,"bc":21500,"GPCC":23500},{"day":220,"raw":26800,"bc":23500,"GPCC":25000},{"day":225,"raw":28500,"bc":24500,"GPCC":27500},{"day":230,"raw":30200,"bc":26500,"GPCC":30500},{"day":235,"raw":32000,"bc":28500,"GPCC":31000},{"day":240,"raw":34000,"bc":30500,"GPCC":31500},{"day":245,"raw":35500,"bc":32000,"GPCC":32500},
{"day":250,"raw":36500,"bc":33000,"GPCC":35500},{"day":255,"raw":37200,"bc":34000,"GPCC":37800},{"day":260,"raw":37800,"bc":35500,"GPCC":36600},{"day":265,"raw":39000,"bc":36000,"GPCC":35500},{"day":270,"raw":38000,"bc":35500,"GPCC":36200},{"day":275,"raw":36500,"bc":35000,"GPCC":35500},{"day":280,"raw":34500,"bc":33500,"GPCC":33500},{"day":285,"raw":32200,"bc":31800,"GPCC":32500},{"day":290,"raw":29200,"bc":30200,"GPCC":30000},{"day":295,"raw":26500,"bc":29200,"GPCC":27500},
{"day":300,"raw":24200,"bc":28000,"GPCC":25000},{"day":305,"raw":22000,"bc":26000,"GPCC":22700},{"day":310,"raw":20000,"bc":24000,"GPCC":20500},{"day":315,"raw":17200,"bc":21700,"GPCC":18500},{"day":320,"raw":14800,"bc":19500,"GPCC":16500},{"day":325,"raw":12700,"bc":17500,"GPCC":14700},{"day":330,"raw":10800,"bc":15500,"GPCC":13000},{"day":335,"raw":9400,"bc":13700,"GPCC":11500},{"day":340,"raw":8200,"bc":12000,"GPCC":10200},{"day":345,"raw":7200,"bc":10700,"GPCC":9000},
{"day":350,"raw":6300,"bc":9600,"GPCC":8000},{"day":355,"raw":5600,"bc":8500,"GPCC":7200},{"day":360,"raw":5000,"bc":7500,"GPCC":6500},{"day":365,"raw":4500,"bc":6600,"GPCC":5600}
    ]
  },
  "concat": [
    {
      "width": 386, "height": 242,
      "layer": [
        {
          "data": {"name": "pS"},
          "transform": [{"fold": ["raw", "bc", "GPCC"], "as": ["series", "value"]}],
          "mark": {"type": "line", "strokeWidth": 1, "clip": true},
          "encoding": {
            "x": {"field": "day", "type": "quantitative", "scale": {"domain": [0, 366], "nice": false, "zero": false}, "axis": {"title": "Julian day", "values": [0, 100, 200, 300]}},
            "y": {"field": "value", "type": "quantitative", "scale": {"domain": [0, 15], "nice": false}, "axis": {"title": "Basin daily precipitation [mm/day]", "values": [0, 5, 10, 15]}},
            "color": {"field": "series", "type": "nominal", "scale": {"domain": ["raw", "bc", "GPCC"], "range": ["#000000", "#ff0000", "#0000ff"]},
              "legend": {"orient": "top-left", "offset": 24, "title": null, "symbolType": "M-1,0H8.8", "symbolSize": 100, "symbolStrokeWidth": 1, "labelOffset": 38, "rowPadding": 4, "padding": 0, "labelFontSize": 15, "labelColor": "#262626",
                "labelExpr": "datum.label == 'raw' ? 'SPA_m01_raw' : datum.label == 'bc' ? 'SPA_m01_bc' : 'GPCC'"}}
          }
        },
        {
          "data": {"name": "pS"},
          "mark": {"type": "point", "opacity": 0},
          "encoding": {
            "x": {"field": "day", "type": "quantitative", "axis": {"orient": "top", "labels": false, "title": null, "values": [0, 100, 200, 300]}},
            "y": {"field": "raw", "type": "quantitative", "axis": {"orient": "right", "labels": false, "title": null, "values": [0, 5, 10, 15]}}
          }
        }
      ],
      "resolve": {"axis": {"x": "independent", "y": "independent"}}
    },
    {
      "width": 386, "height": 242,
      "layer": [
        {
          "data": {"name": "pH"},
          "transform": [{"fold": ["raw", "bc", "GPCC"], "as": ["series", "value"]}],
          "mark": {"type": "line", "strokeWidth": 1, "clip": true},
          "encoding": {
            "x": {"field": "day", "type": "quantitative", "scale": {"domain": [0, 366], "nice": false, "zero": false}, "axis": {"title": "Julian day", "values": [0, 100, 200, 300]}},
            "y": {"field": "value", "type": "quantitative", "scale": {"domain": [0, 15], "nice": false}, "axis": {"title": "Basin daily precipitation [mm/day]", "values": [0, 5, 10, 15]}},
            "color": {"field": "series", "type": "nominal", "scale": {"domain": ["raw", "bc", "GPCC"], "range": ["#000000", "#ff0000", "#0000ff"]},
              "legend": {"orient": "top-left", "offset": 21, "title": null, "symbolType": "M-1,0H8.8", "symbolSize": 100, "symbolStrokeWidth": 1, "labelOffset": 38, "rowPadding": 4, "padding": 0, "labelFontSize": 15, "labelColor": "#262626",
                "labelExpr": "datum.label == 'raw' ? 'HPA_m01_raw' : datum.label == 'bc' ? 'HPA_m01_bc' : 'GPCC'"}}
          }
        },
        {
          "data": {"name": "pH"},
          "mark": {"type": "point", "opacity": 0},
          "encoding": {
            "x": {"field": "day", "type": "quantitative", "axis": {"orient": "top", "labels": false, "title": null, "values": [0, 100, 200, 300]}},
            "y": {"field": "raw", "type": "quantitative", "axis": {"orient": "right", "labels": false, "title": null, "values": [0, 5, 10, 15]}}
          }
        }
      ],
      "resolve": {"axis": {"x": "independent", "y": "independent"}}
    },
    {
      "width": 386, "height": 242,
      "layer": [
        {
          "data": {"name": "qS"},
          "transform": [{"fold": ["raw", "bc", "GPCC"], "as": ["series", "value"]}],
          "mark": {"type": "line", "strokeWidth": 1, "clip": true},
          "encoding": {
            "x": {"field": "day", "type": "quantitative", "scale": {"domain": [0, 366], "nice": false, "zero": false}, "axis": {"title": "Julian day", "values": [0, 100, 200, 300]}},
            "y": {"field": "value", "type": "quantitative", "scale": {"domain": [0, 50000], "nice": false}, "axis": {"title": "Discharge at Stung Treng [m³/s]", "values": [0, 10000, 20000, 30000, 40000, 50000], "labelExpr": "format(datum.value / 10000, 'd')"}},
            "color": {"field": "series", "type": "nominal", "scale": {"domain": ["raw", "bc", "GPCC"], "range": ["#000000", "#ff0000", "#0000ff"]},
              "legend": {"orient": "top-left", "offset": 15, "title": null, "symbolType": "M-1,0H8.8", "symbolSize": 100, "symbolStrokeWidth": 1, "labelOffset": 38, "rowPadding": 4, "padding": 0, "labelFontSize": 15, "labelColor": "#262626",
                "labelExpr": "datum.label == 'raw' ? 'SPA_m01_raw' : datum.label == 'bc' ? 'SPA_m01_bc' : 'GPCC'"}}
          }
        },
        {
          "data": {"name": "qS"},
          "mark": {"type": "point", "opacity": 0},
          "encoding": {
            "x": {"field": "day", "type": "quantitative", "axis": {"orient": "top", "labels": false, "title": null, "values": [0, 100, 200, 300]}},
            "y": {"field": "raw", "type": "quantitative", "axis": {"orient": "right", "labels": false, "title": null, "values": [0, 10000, 20000, 30000, 40000, 50000]}}
          }
        },
        {
          "data": {"values": [{"label": "×10⁴"}]},
          "mark": {"type": "text", "align": "left", "baseline": "alphabetic", "dy": -4, "fontSize": 15, "color": "#262626"},
          "encoding": {"x": {"datum": 0, "axis": null}, "y": {"datum": 50000, "axis": null}, "text": {"field": "label"}}
        }
      ],
      "resolve": {"axis": {"x": "independent", "y": "independent"}}
    },
    {
      "width": 386, "height": 242,
      "layer": [
        {
          "data": {"name": "qH"},
          "transform": [{"fold": ["raw", "bc", "GPCC"], "as": ["series", "value"]}],
          "mark": {"type": "line", "strokeWidth": 1, "clip": true},
          "encoding": {
            "x": {"field": "day", "type": "quantitative", "scale": {"domain": [0, 366], "nice": false, "zero": false}, "axis": {"title": "Julian day", "values": [0, 100, 200, 300]}},
            "y": {"field": "value", "type": "quantitative", "scale": {"domain": [0, 50000], "nice": false}, "axis": {"title": "Discharge at Stung Treng [m³/s]", "values": [0, 10000, 20000, 30000, 40000, 50000], "labelExpr": "format(datum.value / 10000, 'd')"}},
            "color": {"field": "series", "type": "nominal", "scale": {"domain": ["raw", "bc", "GPCC"], "range": ["#000000", "#ff0000", "#0000ff"]},
              "legend": {"orient": "none", "legendX": 27, "legendY": 26, "title": null, "symbolType": "M-1,0H8.8", "symbolSize": 100, "symbolStrokeWidth": 1, "labelOffset": 38, "rowPadding": 4, "padding": 0, "labelFontSize": 15, "labelColor": "#262626",
                "labelExpr": "datum.label == 'raw' ? 'HPA_m01_raw' : datum.label == 'bc' ? 'HPA_m01_bc' : 'GPCC'"}}
          }
        },
        {
          "data": {"name": "qH"},
          "mark": {"type": "point", "opacity": 0},
          "encoding": {
            "x": {"field": "day", "type": "quantitative", "axis": {"orient": "top", "labels": false, "title": null, "values": [0, 100, 200, 300]}},
            "y": {"field": "raw", "type": "quantitative", "axis": {"orient": "right", "labels": false, "title": null, "values": [0, 10000, 20000, 30000, 40000, 50000]}}
          }
        },
        {
          "data": {"values": [{"label": "×10⁴"}]},
          "mark": {"type": "text", "align": "left", "baseline": "alphabetic", "dy": -4, "fontSize": 15, "color": "#262626"},
          "encoding": {"x": {"datum": 0, "axis": null}, "y": {"datum": 50000, "axis": null}, "text": {"field": "label"}}
        }
      ],
      "resolve": {"axis": {"x": "independent", "y": "independent"}}
    }
  ],
  "config": {
    "font": "Liberation Sans",
    "view": {"stroke": "#262626", "strokeWidth": 1},
    "axis": {"domain": false, "grid": false, "ticks": true, "tickSize": -5, "tickColor": "#262626", "tickWidth": 1, "labelFont": "Liberation Sans", "labelFontSize": 16, "labelColor": "#262626", "labelFlush": false, "labelOverlap": false, "titleFont": "Liberation Sans", "titleFontSize": 18, "titleFontWeight": "normal", "titleColor": "#262626"},
    "axisX": {"labelPadding": 15, "titlePadding": 8},
    "axisY": {"labelPadding": 14, "titlePadding": 6},
    "legend": {"labelFont": "Liberation Sans"},
    "text": {"font": "Liberation Sans"}
  }
}
